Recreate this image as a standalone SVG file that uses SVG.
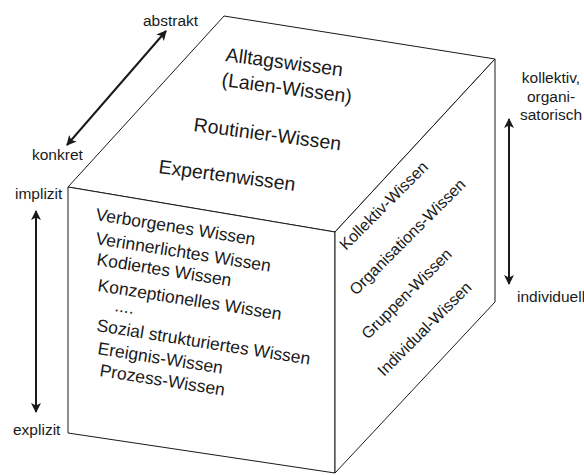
<svg xmlns="http://www.w3.org/2000/svg" width="584" height="475" viewBox="0 0 584 475">
<style>
  .face { fill: #ffffff; stroke: #1a1a1a; stroke-width: 1; stroke-linejoin: miter; }
  .t { font-family: "Liberation Sans", Arial, sans-serif; fill: #1a1a1a; }
  .top { font-size: 19.5px; }
  .front { font-size: 17.5px; }
  .side { font-size: 16px; }
  .lbl { font-size: 15.5px; }
  .arr { stroke: #1a1a1a; stroke-width: 2; fill: none; marker-start: url(#ah); marker-end: url(#ah); }
</style>
<defs>
  <marker id="ah" viewBox="0 0 10 10" refX="9" refY="5" markerWidth="5" markerHeight="5" orient="auto-start-reverse" markerUnits="strokeWidth">
    <path d="M0,0 L10,5 L0,10 L2.5,5 Z" fill="#1a1a1a"/>
  </marker>
</defs>
<rect width="584" height="475" fill="#ffffff"/>

<g id="top-face">
  <polygon class="face" points="68,187 224,16 495,59 335,232"/>
  <text class="t top" x="225" y="61" transform="rotate(7.5 225 61)">Alltagswissen</text>
  <text class="t top" x="221" y="86" transform="rotate(7.5 221 86)">(Laien-Wissen)</text>
  <text class="t top" x="193" y="131" transform="rotate(7.5 193 131)">Routinier-Wissen</text>
  <text class="t top" x="158" y="173" transform="rotate(7.5 158 173)">Expertenwissen</text>
</g>

<g id="front-face">
  <polygon class="face" points="68,187 335,232 335,473 68,433"/>
  <text class="t front" x="95" y="220" transform="rotate(9 95 220)">Verborgenes Wissen</text>
  <text class="t front" x="95" y="244" transform="rotate(9 95 244)">Verinnerlichtes Wissen</text>
  <text class="t front" x="96" y="265" transform="rotate(9 96 265)">Kodiertes Wissen</text>
  <text class="t front" x="97" y="291" transform="rotate(9 97 291)">Konzeptionelles Wissen</text>
  <text class="t front" x="114" y="311" transform="rotate(9 114 311)">....</text>
  <text class="t front" x="96" y="331" transform="rotate(9 96 331)">Sozial strukturiertes Wissen</text>
  <text class="t front" x="97" y="354" transform="rotate(9 97 354)">Ereignis-Wissen</text>
  <text class="t front" x="99" y="376" transform="rotate(9 99 376)">Prozess-Wissen</text>
</g>

<g id="side-face">
  <polygon class="face" points="335,232 495,59 495,302 335,473"/>
  <text class="t side" x="346" y="251" transform="rotate(-45 346 251)">Kollektiv-Wissen</text>
  <text class="t side" x="356" y="296" transform="rotate(-45 356 296)">Organisations-Wissen</text>
  <text class="t side" x="368" y="340" transform="rotate(-45 368 340)">Gruppen-Wissen</text>
  <text class="t side" x="384" y="377" transform="rotate(-45 384 377)">Individual-Wissen</text>
</g>

<g id="connectors">
  <line class="arr" x1="67" y1="145" x2="166" y2="31"/>
  <line class="arr" x1="36" y1="211" x2="36" y2="412"/>
  <line class="arr" x1="509" y1="119" x2="509" y2="284"/>
</g>

<g id="axis-labels">
  <text class="t lbl" x="143" y="26">abstrakt</text>
  <text class="t lbl" x="32" y="160">konkret</text>
  <text class="t lbl" x="15" y="199">implizit</text>
  <text class="t lbl" x="13" y="435">explizit</text>
  <text class="t lbl" x="551" y="83" text-anchor="middle">kollektiv,</text>
  <text class="t lbl" x="551" y="101.5" text-anchor="middle">organi-</text>
  <text class="t lbl" x="551" y="120" text-anchor="middle">satorisch</text>
  <text class="t lbl" x="517" y="302">individuell</text>
</g>
</svg>
